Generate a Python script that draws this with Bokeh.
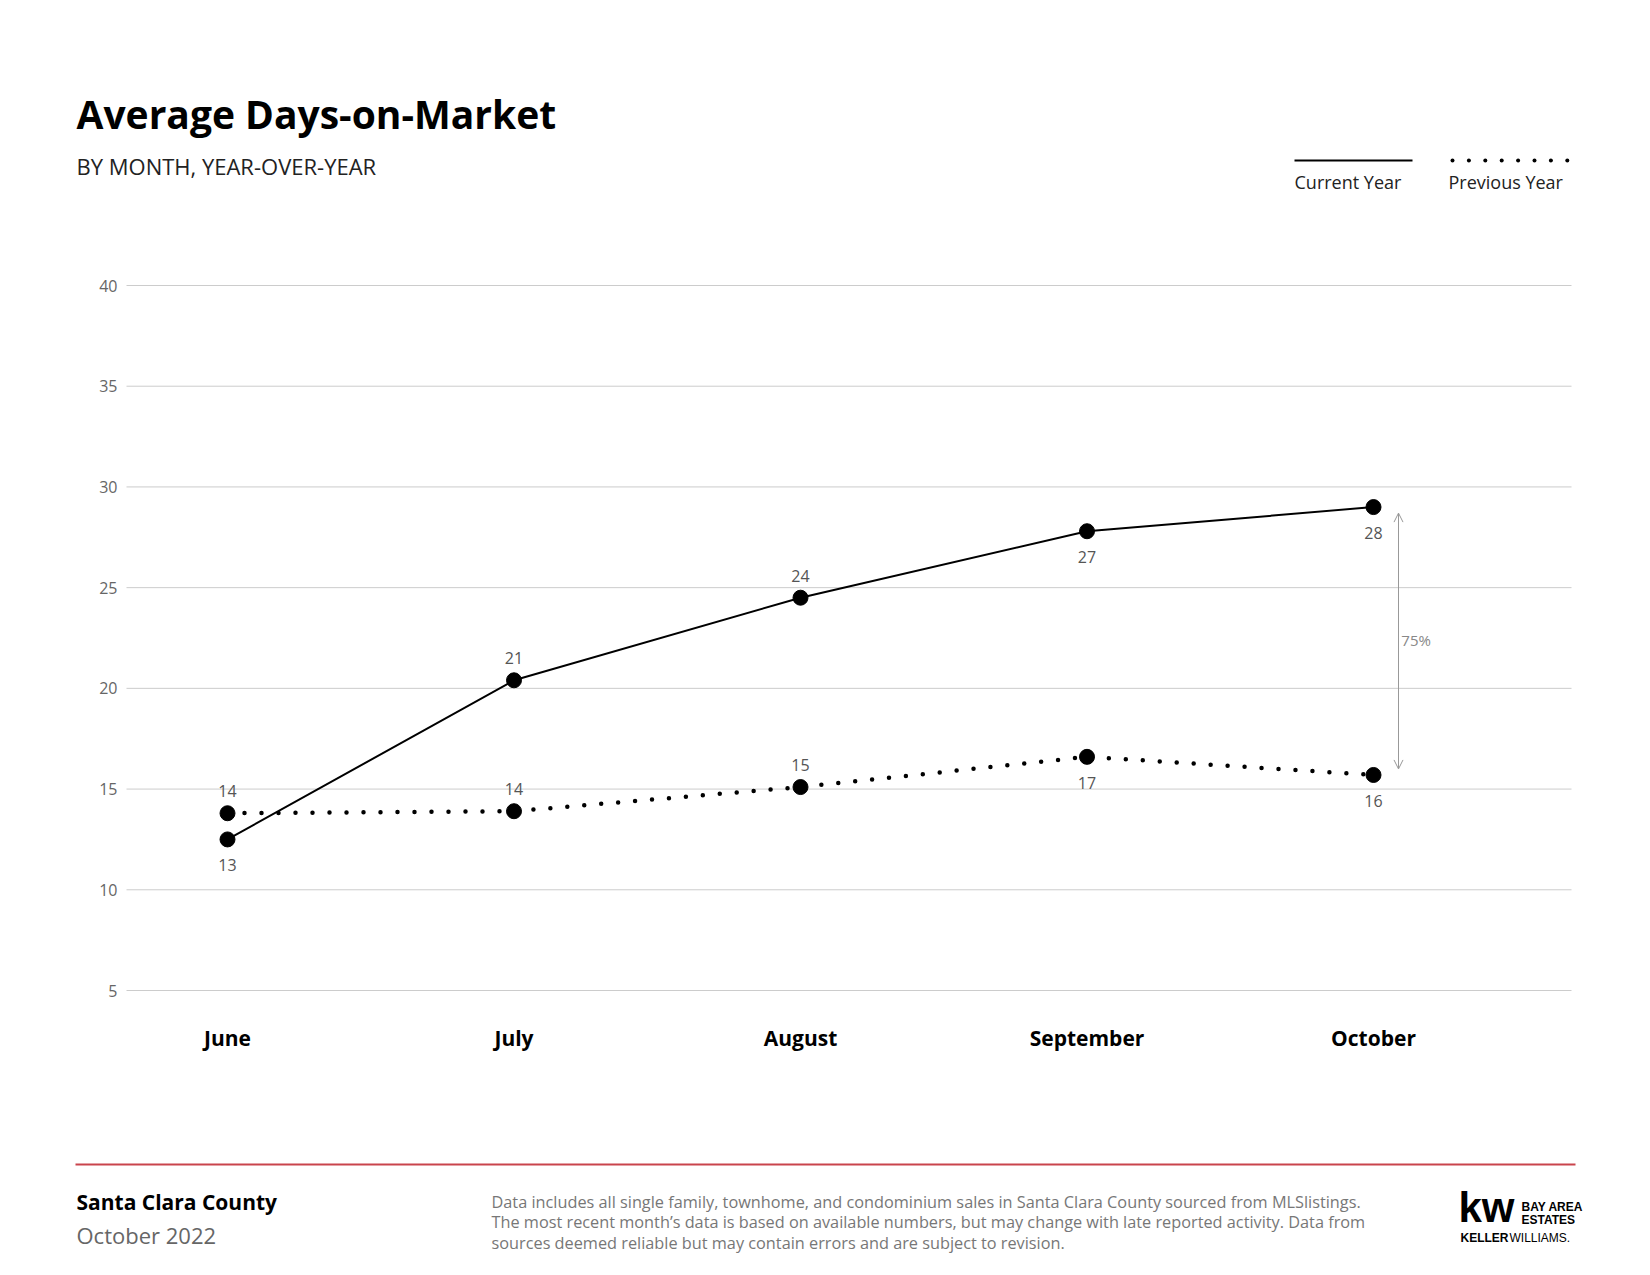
from bokeh.plotting import figure
from bokeh.models import (ColumnDataSource, Label, BoxAnnotation, Arrow, OpenHead, Range1d)
from bokeh.core.properties import value
from bokeh.embed import file_html
from bokeh.resources import INLINE

months = ["June", "July", "August", "September", "October"]
current = [12.5, 20.4, 24.5, 27.8, 29.0]
current_labels = ["13", "21", "24", "27", "28"]
current_pos = ["below", "above", "above", "below", "below"]
previous = [13.8, 13.9, 15.1, 16.6, 15.7]
previous_labels = ["14", "14", "15", "17", "16"]
previous_pos = ["above", "above", "above", "below", "below"]
y_ticks = [5, 10, 15, 20, 25, 30, 35, 40]
change_label = "75%"

W, H = 1634, 1259
FONT = "Open Sans"
FONT_V = value(FONT)
xs = list(range(len(months)))

XS = (1373 - 227) / 4.0
YS = (990 - 285) / 35.0
def dx(px):
    return (px - 227) / XS
def dy(py):
    return 5 + (990 - py) / YS

p = figure(width=W, height=H, output_backend="svg", toolbar_location=None,
           x_range=Range1d(dx(0), dx(W)), y_range=Range1d(dy(H), dy(0)),
           min_border=0)
p.outline_line_color = None
p.grid.visible = False
p.axis.visible = False

p.segment(x0=[dx(126)] * len(y_ticks), x1=[dx(1571)] * len(y_ticks), y0=y_ticks, y1=y_ticks,
          line_color="#cccccc", line_width=1)
p.text(x=[dx(117)] * len(y_ticks), y=y_ticks, text=[str(t) for t in y_ticks], text_align="right",
       text_baseline="middle", text_font=FONT_V, text_font_size="16px", text_color="#666666")
p.text(x=xs, y=[dy(1037)] * len(xs), text=months, text_align="center", text_baseline="middle",
       text_font=FONT_V, text_font_size="21px", text_font_style="bold", text_color="#000000")

p.line(xs, previous, line_color="black", line_width=4.5, line_dash="0 17", line_cap="round")
p.line(xs, current, line_color="black", line_width=2)
p.scatter(xs, previous, size=15, color="black")
p.scatter(xs, current, size=15, color="black")

def labels(vals, texts, pos):
    src = ColumnDataSource(dict(x=xs, y=vals, t=texts,
                                off=[-22 if q == "above" else 26 for q in pos]))
    p.text(x="x", y="y", text="t", source=src, y_offset="off", text_align="center",
           text_baseline="middle", text_font=FONT_V, text_font_size="16px", text_color="#555555")

labels(current, current_labels, current_pos)
labels(previous, previous_labels, previous_pos)

ax_x = xs[-1] + 25 / XS
p.add_layout(Arrow(x_start=ax_x, y_start=previous[-1] + 0.3, x_end=ax_x, y_end=current[-1] - 0.3,
                   line_color="#999999", line_width=1,
                   start=OpenHead(size=9, line_color="#999999", line_width=1),
                   end=OpenHead(size=9, line_color="#999999", line_width=1)))
p.text(x=[ax_x + 0.01], y=[(current[-1] + previous[-1]) / 2 + 0.03], text=[change_label],
       text_font=FONT_V, text_font_size="15px", text_color="#888888", text_baseline="middle")

def lab(px, py, text, size, color="#000000", style="normal", align="left", font=FONT):
    p.add_layout(Label(x=px, y=H - py, x_units="screen", y_units="screen", text=text,
                       text_font=font, text_font_size=size, text_color=color,
                       text_font_style=style, text_align=align, text_baseline="middle"))

def box(x0, x1, y0, y1, color, radius=0):
    p.add_layout(BoxAnnotation(left=x0, right=x1, top=H - y0, bottom=H - y1,
                               left_units="screen", right_units="screen", bottom_units="screen",
                               top_units="screen", fill_color=color, line_color=None,
                               fill_alpha=1, border_radius=radius))

lab(76, 113, "Average Days-on-Market", "39px", style="bold")
lab(76, 165, "BY MONTH, YEAR-OVER-YEAR", "22px", color="#222222")

box(1294, 1412, 159, 161, "black")
for i in range(8):
    cx = 1452 + i * 16.4
    box(cx - 2, cx + 2, 158, 162, "black", 2)
lab(1294, 181, "Current Year", "18px", color="#222222")
lab(1448, 181, "Previous Year", "18px", color="#222222")

box(75, 1575, 1163, 1165, "#c9444c")
lab(76, 1201, "Santa Clara County", "21px", style="bold")
lab(76, 1234, "October 2022", "22px", color="#666666")
disc = ["Data includes all single family, townhome, and condominium sales in Santa Clara County sourced from MLSlistings.",
        "The most recent month’s data is based on available numbers, but may change with late reported activity. Data from",
        "sources deemed reliable but may contain errors and are subject to revision."]
for i, t in enumerate(disc):
    lab(491, 1201 + i * 20.5, t, "16.3px", color="#777777")
LOGO = "Liberation Sans"
lab(1458, 1207, "kw", "42px", style="bold", font=LOGO)
lab(1521, 1206, "BAY AREA", "12px", style="bold", font=LOGO)
lab(1521, 1219, "ESTATES", "12px", style="bold", font=LOGO)
lab(1460, 1237, "KELLER", "12px", style="bold", font=LOGO)
lab(1509, 1237, "WILLIAMS.", "12px", font=LOGO)

open("out.html", "w").write(file_html(p, INLINE))
